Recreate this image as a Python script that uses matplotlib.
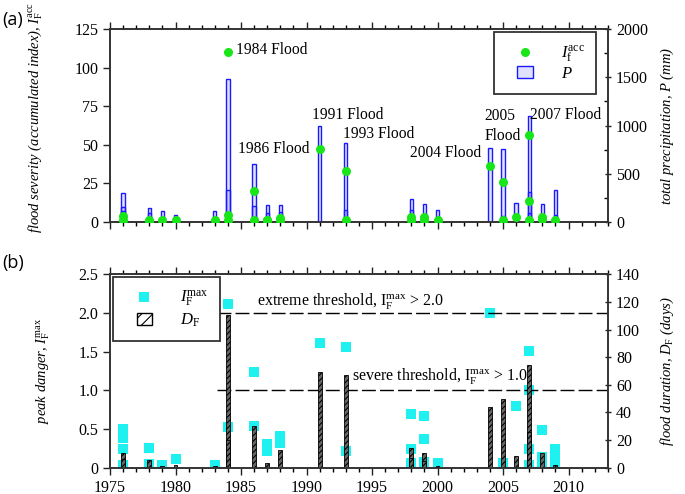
import matplotlib
matplotlib.use("Agg")
import matplotlib.pyplot as plt
from matplotlib.ticker import MultipleLocator, FuncFormatter
from matplotlib.patches import Patch, Rectangle
from matplotlib.legend_handler import HandlerPatch

# (a) accumulated flood index per event
yr_acc = [1976, 1976, 1978, 1978, 1979, 1980, 1983, 1984, 1984, 1984, 1986, 1986, 1987, 1987,
          1988, 1988, 1991, 1993, 1993, 1998, 1998, 1999, 1999, 2000, 2004, 2005, 2005, 2006,
          2007, 2007, 2007, 2008, 2008, 2009]
i_acc = [4, 1.5, 1.5, 0.5, 1, 1, 1, 110, 4.5, 1.5, 20, 1.5, 1.5, 1, 2.5, 1, 47, 33, 1.5,
         3.5, 1.5, 3, 1.5, 1, 36, 26, 1.5, 3, 56.5, 13.5, 1.5, 3, 2, 1.5]

# (a) total precipitation per event (mm)
yr_p = [1976, 1976, 1976, 1978, 1978, 1979, 1980, 1980, 1983, 1984, 1984, 1984, 1986, 1986,
        1987, 1987, 1988, 1988, 1991, 1993, 1993, 1998, 1998, 1999, 1999, 2000, 2004, 2005,
        2005, 2006, 2007, 2007, 2007, 2008, 2008, 2009, 2009]
p_tot = [300, 155, 110, 145, 90, 110, 70, 45, 115, 1480, 330, 105, 600, 165, 175, 95, 175, 100,
         990, 815, 120, 235, 125, 185, 80, 125, 770, 756, 60, 197, 1100, 310, 90, 183, 75, 335, 75]

# (b) peak danger per event
yr_max = [1976, 1976, 1976, 1976, 1978, 1978, 1979, 1980, 1983, 1984, 1984, 1986, 1986, 1987,
          1987, 1988, 1988, 1991, 1993, 1993, 1998, 1998, 1998, 1999, 1999, 1999, 2000, 2004,
          2005, 2006, 2007, 2007, 2007, 2007, 2008, 2008, 2008, 2009, 2009, 2009]
i_max = [0.50, 0.38, 0.24, 0.04, 0.255, 0.05, 0.04, 0.11, 0.03, 2.12, 0.52, 1.24, 0.54, 0.31,
         0.22, 0.41, 0.32, 1.61, 1.56, 0.21, 0.70, 0.24, 0.065, 0.67, 0.37, 0.07, 0.065, 2.0,
         0.06, 0.80, 1.51, 1.0, 0.24, 0.04, 0.49, 0.14, 0.08, 0.24, 0.14, 0.05]

# (b) flood duration per event (days)
yr_d = [1976, 1976, 1978, 1979, 1980, 1983, 1984, 1984, 1986, 1987, 1988, 1991, 1993, 1998,
        1998, 1999, 1999, 2000, 2004, 2005, 2006, 2007, 2007, 2008, 2009]
d_f = [11, 6, 5.4, 1.2, 2, 1, 110.5, 20, 30, 3.4, 12.5, 69, 67, 14.5, 7, 11, 5, 1, 44, 50,
       8.5, 74, 26, 11, 2]

flood_labels = ["1984 Flood", "1986 Flood", "1991 Flood", "1993 Flood", "2004 Flood",
                "2005\nFlood", "2007 Flood"]
flood_label_pos = [(1984.6, 111.5), (1984.8, 47), (1990.4, 69.5), (1992.8, 57),
                   (1997.9, 45), (2003.6, 62), (2007.05, 69)]

extreme_thr = 2.0
severe_thr = 1.0

plt.rcParams["font.family"] = ["Liberation Serif", "DejaVu Serif"]
plt.rcParams["mathtext.fontset"] = "custom"
plt.rcParams["mathtext.rm"] = "Liberation Serif"
plt.rcParams["mathtext.it"] = "Liberation Serif:italic"
plt.rcParams["hatch.linewidth"] = 0.8


def narrow_box(legend, orig_handle, xdescent, ydescent, width, height, fontsize):
    # small rectangle centred in a wide handle slot, like the original legend
    w = 0.4 * width
    return Rectangle((-xdescent + (width - w) / 2, -ydescent), w, height)


fig = plt.figure(figsize=(6.85, 4.94), dpi=100)
ax1 = fig.add_axes([0.1606, 0.5506, 0.7267, 0.3907])
ax2 = fig.add_axes([0.1606, 0.0532, 0.7267, 0.3915])
ax1r = ax1.twinx()
ax2r = ax2.twinx()

# ---- panel (a)
bars_p = ax1r.bar(yr_p, p_tot, width=0.25, facecolor=(0.45, 0.45, 1.0, 0.22),
                  edgecolor="#1a1aff", linewidth=1.0)
dots, = ax1.plot(yr_acc, i_acc, "o", color="#19e619", markersize=6.5, markeredgewidth=0,
                 zorder=5)
ax1.set_zorder(ax1r.get_zorder() + 1)
ax1.patch.set_visible(False)

for txt, (x, y) in zip(flood_labels, flood_label_pos):
    ax1.text(x, y, txt, fontsize=11.2, ha="left", va="center", linespacing=1.3)

ax1.set_xlim(1975, 2013)
ax1.set_ylim(0, 125)
ax1r.set_ylim(0, 2000)
ax1.yaxis.set_major_locator(MultipleLocator(25))
ax1r.yaxis.set_major_locator(MultipleLocator(500))
ax1r.yaxis.set_minor_locator(MultipleLocator(250))

ax1.set_ylabel(r"flood severity (accumulated index), $I_\mathrm{F}^\mathrm{acc}$",
               fontsize=10.5, style="italic")
ax1.yaxis.set_label_coords(-0.133, 0.54)
ax1r.set_ylabel(r"total precipitation, $P$ (mm)", fontsize=10.5, style="italic")
ax1r.yaxis.set_label_coords(1.103, 0.5)

p_handle = Patch(facecolor=(0.45, 0.45, 1.0, 0.22), edgecolor="#1a1aff", linewidth=1.0)
leg1 = ax1.legend([dots, p_handle], [r"$I_\mathrm{f}^\mathrm{acc}$", r"$P$"],
                  loc="upper right", bbox_to_anchor=(0.977, 0.985), fontsize=12,
                  fancybox=False, edgecolor="#333333", framealpha=1, borderpad=0.7,
                  handlelength=2.3, handletextpad=1.0, labelspacing=0.1,
                  borderaxespad=0,
                  handler_map={Patch: HandlerPatch(patch_func=narrow_box)})
leg1.get_frame().set_linewidth(1.3)

# ---- panel (b)
sq, = ax2.plot(yr_max, i_max, "s", color="#1ff0f0", markersize=7, markeredgewidth=0)
ax2r.bar(yr_d, d_f, width=0.3, facecolor="0.4", edgecolor="black",
         linewidth=0.6, hatch="//////")

ax2.set_xlim(1975, 2013)
ax2.set_ylim(0, 2.5)
ax2r.set_ylim(0, 140)
ax2.yaxis.set_major_locator(MultipleLocator(0.5))
ax2r.yaxis.set_major_locator(MultipleLocator(20))
ax2.yaxis.set_major_formatter(FuncFormatter(lambda v, p: "0" if v == 0 else f"{v:.1f}"))

x0 = 1983.2
ax2.plot([x0, 2013], [extreme_thr, extreme_thr], color="black", lw=1.0,
         linestyle=(0, (10, 3)))
ax2.plot([x0, 2013], [severe_thr, severe_thr], color="black", lw=1.0,
         linestyle=(0, (10, 3)))
ax2.text(1986.2, 2.16, r"extreme threshold, $\mathrm{I}_\mathrm{F}^\mathrm{max}$ > 2.0",
         fontsize=11.5, ha="left", va="center")
ax2.text(1993.5, 1.18, r"severe threshold, $\mathrm{I}_\mathrm{F}^\mathrm{max}$ > 1.0",
         fontsize=11.5, ha="left", va="center")

ax2.set_ylabel(r"peak danger, $I_\mathrm{F}^\mathrm{max}$", fontsize=10.5, style="italic")
ax2.yaxis.set_label_coords(-0.117, 0.5)
ax2r.set_ylabel(r"flood duration, $D_\mathrm{F}$ (days)", fontsize=10.5, style="italic")
ax2r.yaxis.set_label_coords(1.103, 0.5)

h_d = Patch(facecolor="white", edgecolor="black", hatch="///", linewidth=1.0)
leg2 = ax2r.legend([sq, h_d], [r"$I_\mathrm{F}^\mathrm{max}$", r"$D_\mathrm{F}$"],
                   loc="upper left", bbox_to_anchor=(0.007, 0.985), fontsize=12,
                   fancybox=False, edgecolor="#333333", framealpha=1, borderpad=0.7,
                   handlelength=2.3, handletextpad=1.0, labelspacing=0.15,
                   borderaxespad=0,
                   handler_map={Patch: HandlerPatch(patch_func=narrow_box)})
leg2.get_frame().set_linewidth(1.3)

# ---- shared styling
for ax in (ax1, ax2):
    ax.xaxis.set_major_locator(MultipleLocator(5))
    ax.xaxis.set_minor_locator(MultipleLocator(1))
    ax.tick_params(axis="x", which="both", top=True, bottom=True, direction="out")
    ax.tick_params(axis="x", which="major", length=5, width=1)
    ax.tick_params(axis="x", which="minor", length=3, width=1)
    ax.tick_params(axis="y", which="major", length=5, width=1, direction="out")
ax1.tick_params(axis="x", labelbottom=False)

for ax in (ax1, ax2, ax1r, ax2r):
    for sp in ax.spines.values():
        sp.set_color("#333333")
        sp.set_linewidth(1.2)
    ax.tick_params(colors="#222222", labelsize=11.5)
    ax.tick_params(axis="both", which="both", labelcolor="black")
for axr in (ax1r, ax2r):
    axr.tick_params(axis="y", which="major", length=5, width=1, direction="inout")
    axr.tick_params(axis="y", which="minor", length=3, width=1, direction="in")

fig.text(0.004, 0.96, "(a)", fontsize=13, family="Open Sans", va="center")
fig.text(0.004, 0.468, "(b)", fontsize=13, family="Open Sans", va="center")

fig.savefig("out.png", dpi=100)
